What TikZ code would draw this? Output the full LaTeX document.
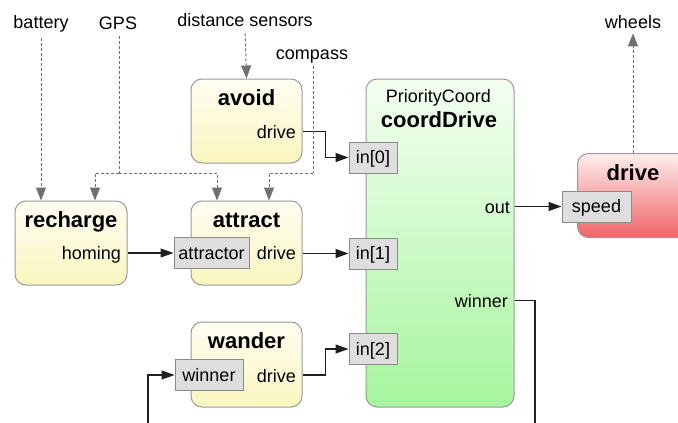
\documentclass[tikz,border=0pt]{standalone}
\usepackage{fontspec}
\setmainfont{Liberation Sans}
\usetikzlibrary{arrows.meta,calc}
\definecolor{bordergray}{HTML}{9A9A9A}
\definecolor{portfill}{HTML}{DEDEDE}
\definecolor{portborder}{HTML}{8A8A8A}
\definecolor{depgray}{HTML}{707070}
\definecolor{yelTop}{HTML}{FFFEF2}
\definecolor{yelBot}{HTML}{F9F6BE}
\definecolor{grnTop}{HTML}{F4FFF2}
\definecolor{grnBot}{HTML}{A6F59E}
\definecolor{redTop}{HTML}{FFEEEE}
\definecolor{redBot}{HTML}{F06466}
\newcommand\lblfont{\fontsize{18}{20}\selectfont}
\newcommand\ttlfont{\bfseries\fontsize{22}{24}\selectfont}
\begin{document}
\begin{tikzpicture}[x=1pt,y=-1pt,
  module/.style={draw=bordergray, line width=1pt, rounded corners=11pt, inner sep=0pt},
  yellowbox/.style={module, top color=yelTop, bottom color=yelBot, minimum width=111pt, minimum height=84pt},
  port/.style={draw=portborder, fill=portfill, line width=1pt, inner sep=0pt, minimum height=31pt,
    font=\lblfont, text height=14pt, text depth=2pt},
  lbl/.style={inner sep=0pt, font=\lblfont},
  ttl/.style={inner sep=0pt, font=\ttlfont},
  flow/.style={draw=black!88, line width=1.1pt, -{Triangle[length=13pt,width=9pt]}},
  plainline/.style={draw=black!88, line width=1.1pt},
  dep/.style={draw=depgray, line width=1pt, dash pattern=on 3pt off 2pt, -{Triangle[length=13pt,width=10pt]}},
  depline/.style={draw=depgray, line width=1pt, dash pattern=on 3pt off 2pt},
]
\useasboundingbox (0,0) rectangle (678,423);
\clip (0,0) rectangle (678,423);

% top labels
\node[lbl, anchor=base] (battery) at (41,28) {battery};
\node[lbl, anchor=base] (gps) at (118,30) {GPS};
\node[lbl, anchor=base] (dist) at (245,27) {distance sensors};
\node[lbl, anchor=base] (compass) at (312,59) {compass};
\node[lbl, anchor=base] (wheels) at (633,28) {wheels};

% boxes
\node[yellowbox] (avoid) at (246.5,121) {};
\node[yellowbox] (attract) at (246.5,243) {};
\node[yellowbox, minimum width=112pt] (recharge) at (71,243) {};
\node[yellowbox, minimum height=85pt] (wander) at (246.5,364.5) {};
\node[module, top color=grnTop, bottom color=grnBot, minimum width=148pt, minimum height=328pt] (coord) at (440,243) {};
\node[module, top color=redTop, bottom color=redBot, minimum width=130pt, minimum height=84pt, anchor=north west] (drive) at (577,153) {};

% titles
\node[ttl, anchor=base] (avoidT) at (246.5,105) {avoid};
\node[ttl, anchor=base] (rechargeT) at (71,227) {recharge};
\node[ttl, anchor=base] (attractT) at (246.5,227) {attract};
\node[ttl, anchor=base] (wanderT) at (246.5,348) {wander};
\node[lbl, anchor=base] (coordType) at (438.5,102) {PriorityCoord};
\node[ttl, anchor=base] (coordT) at (439,127) {coordDrive};
\node[ttl, anchor=base] (driveT) at (633,180) {drive};

% output labels
\node[lbl, anchor=base east] (avoidDrive) at (296,138) {drive};
\node[lbl, anchor=base east] (homing) at (121,259) {homing};
\node[lbl, anchor=base east] (attractDrive) at (296,259) {drive};
\node[lbl, anchor=base east] (wanderDrive) at (296,382) {drive};
\node[lbl, anchor=base east] (out) at (510,213) {out};
\node[lbl, anchor=base east] (coordWinner) at (508,307) {winner};

% ports
\node[port, minimum width=48pt] (in0) at (373,157.5) {in[0]};
\node[port, minimum width=48pt] (in1) at (373,253.5) {in[1]};
\node[port, minimum width=48pt] (in2) at (373,349) {in[2]};
\node[port, minimum width=75pt] (attractor) at (211.5,253) {attractor};
\node[port, minimum width=68pt] (winnerP) at (209,375) {winner};
\node[port, minimum width=69pt] (speed) at (596.5,206.5) {speed};

% data connectors
\draw[flow] (avoid.east |- avoidDrive.center) -- ++(23,0) |- (in0.west);
\draw[flow] (recharge.east |- attractor) -- (attractor.west);
\draw[flow] (attract.east |- in1) -- (in1.west);
\draw[flow] (wander.east |- winnerP) -- ++(23,0) |- (in2.west);
\draw[flow] (coord.east |- speed) -- (speed.west);
\coordinate (wIn) at (148,430);
\draw[flow] (wIn) |- (winnerP.west);
\coordinate (wOut) at (535,430);
\draw[plainline] (coord.east |- coordWinner) -| (wOut);

% dependency connectors
\draw[dep, shorten <=6pt] (battery.south) -- (battery.south |- recharge.north);
\coordinate (gpsJ) at (119,173);
\draw[depline, shorten <=6pt] (gps.south -| gpsJ) -- (gpsJ);
\draw[dep] (gpsJ) -| ([xshift=24pt]recharge.north);
\draw[dep] (gpsJ) -| ([xshift=-29.5pt]attract.north);
\coordinate (cmpJ) at (313,173);
\draw[depline, shorten <=3pt] (compass.south -| cmpJ) -- (cmpJ);
\draw[dep] (cmpJ) -| ([xshift=22.5pt]attract.north);
\draw[dep, shorten <=6pt] (dist.south) -- (avoid.north);
\draw[dep, shorten >=5pt] (drive.north -| driveT) -- (wheels.south);
\end{tikzpicture}
\end{document}
